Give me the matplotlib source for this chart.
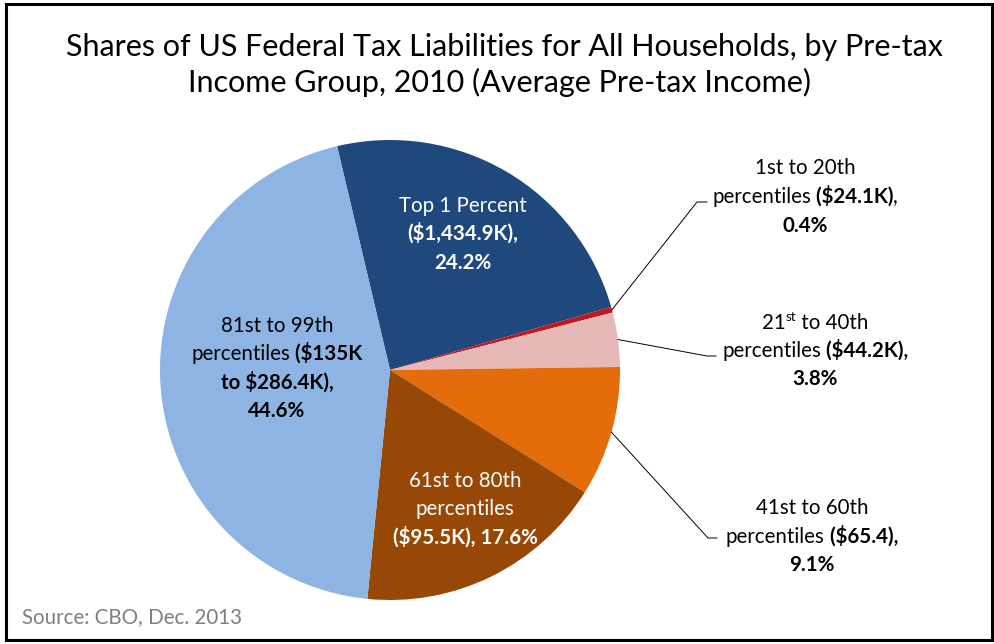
import matplotlib
matplotlib.use("Agg")
import matplotlib.pyplot as plt
import matplotlib.patches as patches
from matplotlib.transforms import IdentityTransform
import numpy as np

plt.rcParams['font.family'] = ['Lato', 'DejaVu Sans']

# data
groups = ['Top 1 Percent', '1st to 20th', '21st to 40th', '41st to 60th', '61st to 80th', '81st to 99th']
shares = [24.2, 0.4, 3.8, 9.1, 17.6, 44.6]
incomes = ['$1,434.9K', '$24.1K', '$44.2K', '$65.4', '$95.5K', '$135K to $286.4K']
colors = ['#1F497D', '#C0181C', '#E6B9B8', '#E46C0A', '#974806', '#8DB4E2']

W, H = 995, 644
fig = plt.figure(figsize=(W / 100, H / 100), dpi=100)
fig.patch.set_facecolor('white')

# pie: centre (390, 370) px, radius 230 px
cx, cy, R = 390, 370, 230
ax = fig.add_axes([(cx - R) / W, (H - cy - R) / H, 2 * R / W, 2 * R / H])
wedges, _ = ax.pie(shares, colors=colors, startangle=103.3, counterclock=False,
                   radius=1, wedgeprops=dict(linewidth=0))
ax.set_xlim(-1, 1)
ax.set_ylim(-1, 1)
ax.set_aspect('equal')
ax.axis('off')

renderer = fig.canvas.get_renderer()
FS = 14.8


def seg_width(s, bold, size):
    t = fig.text(0, 0, s, fontsize=size, fontweight='bold' if bold else 'normal',
                 transform=IdentityTransform())
    w = t.get_window_extent(renderer).width
    t.remove()
    return w


def draw_line(xc, yc, segs, color='black', size=FS):
    """segs: list of (text, bold, sup) drawn centred at pixel (xc, yc) from top."""
    widths = []
    for s, bold, sup in segs:
        widths.append(seg_width(s, bold, size * 0.65 if sup else size))
    total = sum(widths)
    x = xc - total / 2
    base = H - yc - size * 0.45
    for (s, bold, sup), w in zip(segs, widths):
        fig.text(x, base + (size * 0.5 if sup else 0), s, fontsize=size * 0.65 if sup else size,
                 fontweight='bold' if bold else 'normal', color=color,
                 ha='left', va='baseline', transform=IdentityTransform())
        x += w


def sp(s, bold=False):
    return [(s, bold, False)]


# inside labels
draw_line(463, 205, sp('Top 1 Percent'), 'white')
draw_line(463, 233, sp('(%s),' % incomes[0], True), 'white')
draw_line(463, 262, sp('%.1f%%' % shares[0], True), 'white')

lo, hi = incomes[5].split(' to ')
draw_line(277, 325, sp('81st to 99th'))
draw_line(277, 353, [('percentiles', False, False), (' (' + lo, True, False)])
draw_line(277, 382, sp('to %s),' % hi, True))
draw_line(277, 410, sp('%.1f%%' % shares[5], True))

draw_line(465, 480, sp('61st to 80th'), 'white')
draw_line(465, 508, sp('percentiles'), 'white')
draw_line(465, 537, sp('(%s), %.1f%%' % (incomes[4], shares[4]), True), 'white')

# outside labels
draw_line(805, 167, sp('1st to 20th'))
draw_line(805, 196, [('percentiles', False, False), (' (%s)' % incomes[1], True, False), (',', False, False)])
draw_line(805, 225, sp('%.1f%%' % shares[1], True))

draw_line(815, 322, [('21', False, False), ('st', False, True), (' to 40th', False, False)])
draw_line(815, 350, [('percentiles', False, False), (' (%s),' % incomes[2], True, False)])
draw_line(815, 378, sp('%.1f%%' % shares[2], True))

draw_line(812, 507, sp('41st to 60th'))
draw_line(812, 536, [('percentiles', False, False), (' (%s),' % incomes[3], True, False)])
draw_line(812, 564, sp('%.1f%%' % shares[3], True))

# leader lines from wedge mid-angles
elbows = {1: (697, 202, 707), 2: (707, 356, 716), 3: (708, 538, 717)}
for i, (ex, ey, tx) in elbows.items():
    w = wedges[i]
    ang = np.deg2rad((w.theta1 + w.theta2) / 2)
    x0, y0 = np.cos(ang), np.sin(ang)
    ex_d, ey_d = (ex - cx) / R, (cy - ey) / R
    tx_d = (tx - cx) / R
    ax.plot([x0, ex_d, tx_d], [y0, ey_d, ey_d], color='black', lw=0.7,
            clip_on=False, solid_joinstyle='miter')

# title
fig.text(505 / W, 1 - 47 / H, 'Shares of US Federal Tax Liabilities for All Households, by Pre-tax',
         fontsize=22, ha='center', va='center')
fig.text(500 / W, 1 - 82 / H, 'Income Group, 2010 (Average Pre-tax Income)',
         fontsize=22, ha='center', va='center')

# source
fig.text(22 / W, 1 - 617 / H, 'Source: CBO, Dec. 2013', fontsize=14.8, color='#7F7F7F',
         ha='left', va='center')

# border
fig.patches.append(patches.Rectangle((6 / W, 4 / H), 986 / W, 636 / H, fill=False,
                                     edgecolor='black', linewidth=2.2,
                                     transform=fig.transFigure, figure=fig))

fig.savefig('out.png', dpi=100)
